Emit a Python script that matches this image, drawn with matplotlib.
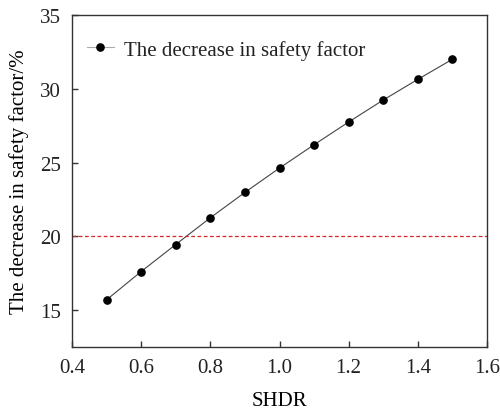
import matplotlib
matplotlib.use("Agg")
import matplotlib.pyplot as plt

shdr = [0.5, 0.6, 0.7, 0.8, 0.9, 1.0, 1.1, 1.2, 1.3, 1.4, 1.5]
decrease = [15.7, 17.62, 19.45, 21.26, 22.98, 24.63, 26.21, 27.75, 29.24, 30.64, 32.0]
threshold = 20
x_ticks = [0.4, 0.6, 0.8, 1.0, 1.2, 1.4, 1.6]
y_ticks = [15, 20, 25, 30, 35]

plt.rcParams["font.family"] = ["Liberation Serif", "DejaVu Serif"]
plt.rcParams["font.size"] = 15
plt.rcParams["text.color"] = "#222222"

fig = plt.figure(figsize=(5, 4.1), dpi=100)
ax = fig.add_axes([0.144, 0.151, 0.830, 0.810])

ax.plot(shdr, decrease, color="#444444", linewidth=0.8, marker="o",
        markersize=5.2, markerfacecolor="black", markeredgecolor="black",
        label="The decrease in safety factor")
ax.axhline(threshold, color="#d62728", linestyle=(0, (3, 2)), linewidth=0.9)

ax.set_xlim(0.4, 1.6)
ax.set_ylim(12.5, 35)
ax.set_xticks(x_ticks)
ax.set_xticklabels([f"{v:.1f}" for v in x_ticks])
ax.set_yticks(y_ticks)
ax.tick_params(direction="in", length=4, width=1, top=False, right=False,
               labelsize=15, pad=8, colors="#333333", labelcolor="#222222")
for sp in ax.spines.values():
    sp.set_linewidth(1.0)
    sp.set_color("#333333")

ax.set_xlabel("SHDR", fontsize=15, labelpad=10)
ax.set_ylabel("The decrease in safety factor/%", fontsize=15, labelpad=8)
leg = ax.legend(loc="upper left", bbox_to_anchor=(0, 0.969), frameon=False,
                fontsize=15, handlelength=1.3, handletextpad=0.48,
                borderaxespad=0.3)
leg.get_lines()[0].set_color("#aaaaaa")
leg.get_lines()[0].set_markerfacecolor("black")
leg.get_lines()[0].set_markeredgecolor("black")

fig.savefig("out.png", dpi=100)
